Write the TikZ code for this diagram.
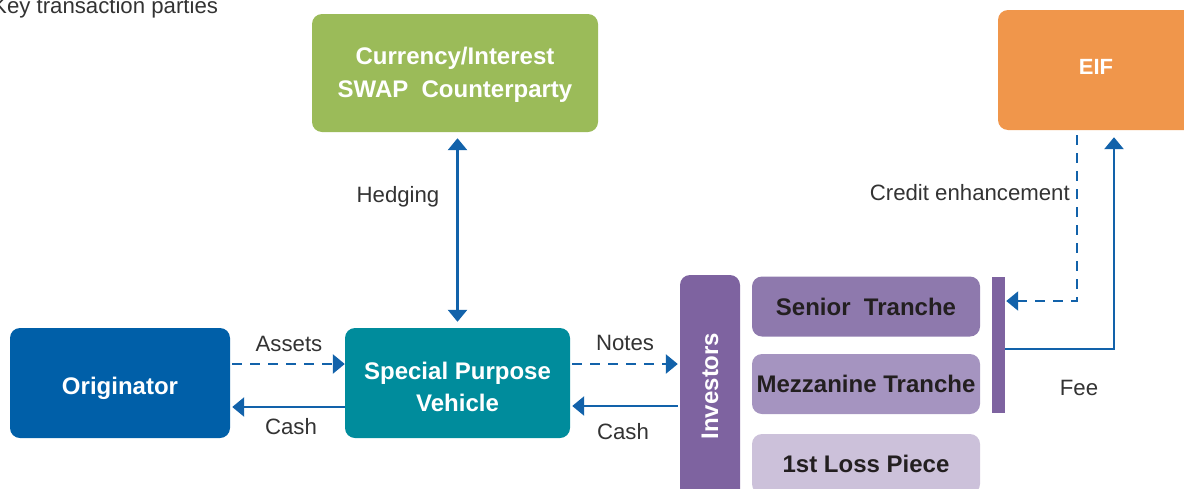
\documentclass[tikz,border=0pt]{standalone}
\usepackage{fontspec}
\setmainfont{Liberation Sans}
\usetikzlibrary{arrows.meta,calc}
\definecolor{origblue}{HTML}{005FA8}
\definecolor{spvteal}{HTML}{008C9C}
\definecolor{swapgreen}{HTML}{9BBB59}
\definecolor{eiforange}{HTML}{F0964B}
\definecolor{invpurple}{HTML}{7E63A0}
\definecolor{seniorpurple}{HTML}{8E79AD}
\definecolor{mezzpurple}{HTML}{A594C0}
\definecolor{losspurple}{HTML}{CCC1DA}
\definecolor{arrowblue}{HTML}{1262AA}
\definecolor{labelgray}{HTML}{333333}
\definecolor{darktext}{HTML}{231F20}
\newcommand\boxfont{\fontsize{24}{32.5}\selectfont\bfseries}
\newcommand\lblfont{\fontsize{22.2}{26}\selectfont}
\tikzset{
  flowtip/.tip={Triangle[width=19pt,length=12pt]},
  party/.style={rounded corners=10pt, inner sep=0pt},
  partytext/.style={inner sep=0pt, align=center, font=\boxfont, text=white},
  tranche/.style={party, fill=#1, align=center, font=\boxfont, text=darktext, minimum width=228pt, minimum height=60pt},
  flow/.style={draw=arrowblue, line width=2.7pt, -flowtip},
  dflow/.style={flow, dash pattern=on 10pt off 8pt},
  lbl/.style={font=\lblfont, text=labelgray, anchor=base, inner sep=0pt}
}
\begin{document}
\begin{tikzpicture}[x=1pt,y=-1pt]
\useasboundingbox (0,0) rectangle (1184,488);
\clip (0,0) rectangle (1184,488);

% heading
\node[lbl, anchor=base west] (title) at (-8,13) {Key transaction parties};

% parties
\node[party, fill=origblue, minimum width=220pt, minimum height=110pt] (orig) at (120,383) {};
\node[partytext, yshift=-5pt] (origtext) at (orig.center) {Originator};
\node[party, fill=spvteal, minimum width=225pt, minimum height=110pt] (spv) at (457.5,383) {};
\node[partytext, yshift=-4pt] (spvtext) at (spv.center) {Special Purpose\\Vehicle};
\node[party, fill=swapgreen, minimum width=286pt, minimum height=118pt] (swap) at (455,73) {};
\node[partytext, yshift=-2pt] (swaptext) at (swap.center) {Currency/Interest\\SWAP\ \ Counterparty};
\node[party, fill=eiforange, minimum width=196pt, minimum height=120pt] (eif) at (1096,70) {};
\node[partytext, font=\fontsize{22}{26}\selectfont\bfseries, yshift=3pt] (eiftext) at (eif.center) {EIF};

% investors and tranches
\node[party, fill=invpurple, minimum width=60pt, minimum height=225pt] (inv) at (710,387.5) {};
\node[partytext, rotate=90] (invtext) at (710,386) {Investors};
\node[tranche=seniorpurple] (senior) at (866,306.5) {Senior\ \ Tranche};
\node[tranche=mezzpurple] (mezz) at (866,384) {Mezzanine Tranche};
\node[tranche=losspurple] (loss) at (866,464) {1st Loss Piece};
\node[fill=invpurple, minimum width=13pt, minimum height=136pt, inner sep=0pt] (bar) at (998.5,345) {};

% asset and cash flows
\draw[dflow, shorten <=2pt] ([yshift=19pt]orig.east) -- ([yshift=19pt]spv.west);
\draw[flow, shorten >=2pt] ([yshift=-24pt]spv.west) -- ([yshift=-24pt]orig.east);
\draw[dflow, shorten <=2pt, shorten >=2pt] ([yshift=19pt]spv.east) -- ([yshift=19pt]spv.east -| inv.west);
\draw[flow, shorten <=2pt, shorten >=2pt] ([yshift=-23pt]spv.east -| inv.west) -- ([yshift=-23pt]spv.east);
\draw[flow, flowtip-flowtip, shorten <=6pt, shorten >=6pt] (spv.north |- swap.south) -- (spv.north);

% credit enhancement and fee
\draw[dflow, line width=2.3pt, shorten <=5pt, shorten >=1pt] ([xshift=-19pt]eif.south) |- ([yshift=44pt]bar.east);
\draw[flow, shorten >=7pt] ([yshift=-4pt]bar.east) -| ([xshift=18pt]eif.south);

% flow labels
\node[lbl] (assets) at (289,351) {Assets};
\node[lbl] (cash1) at (291,434) {Cash};
\node[lbl] (notes) at (625,350) {Notes};
\node[lbl] (cash2) at (623,439) {Cash};
\node[lbl] (hedging) at (398,202) {Hedging};
\node[lbl, anchor=base east] (credit) at (1070,200) {Credit enhancement};
\node[lbl] (fee) at (1079,395) {Fee};
\end{tikzpicture}
\end{document}
